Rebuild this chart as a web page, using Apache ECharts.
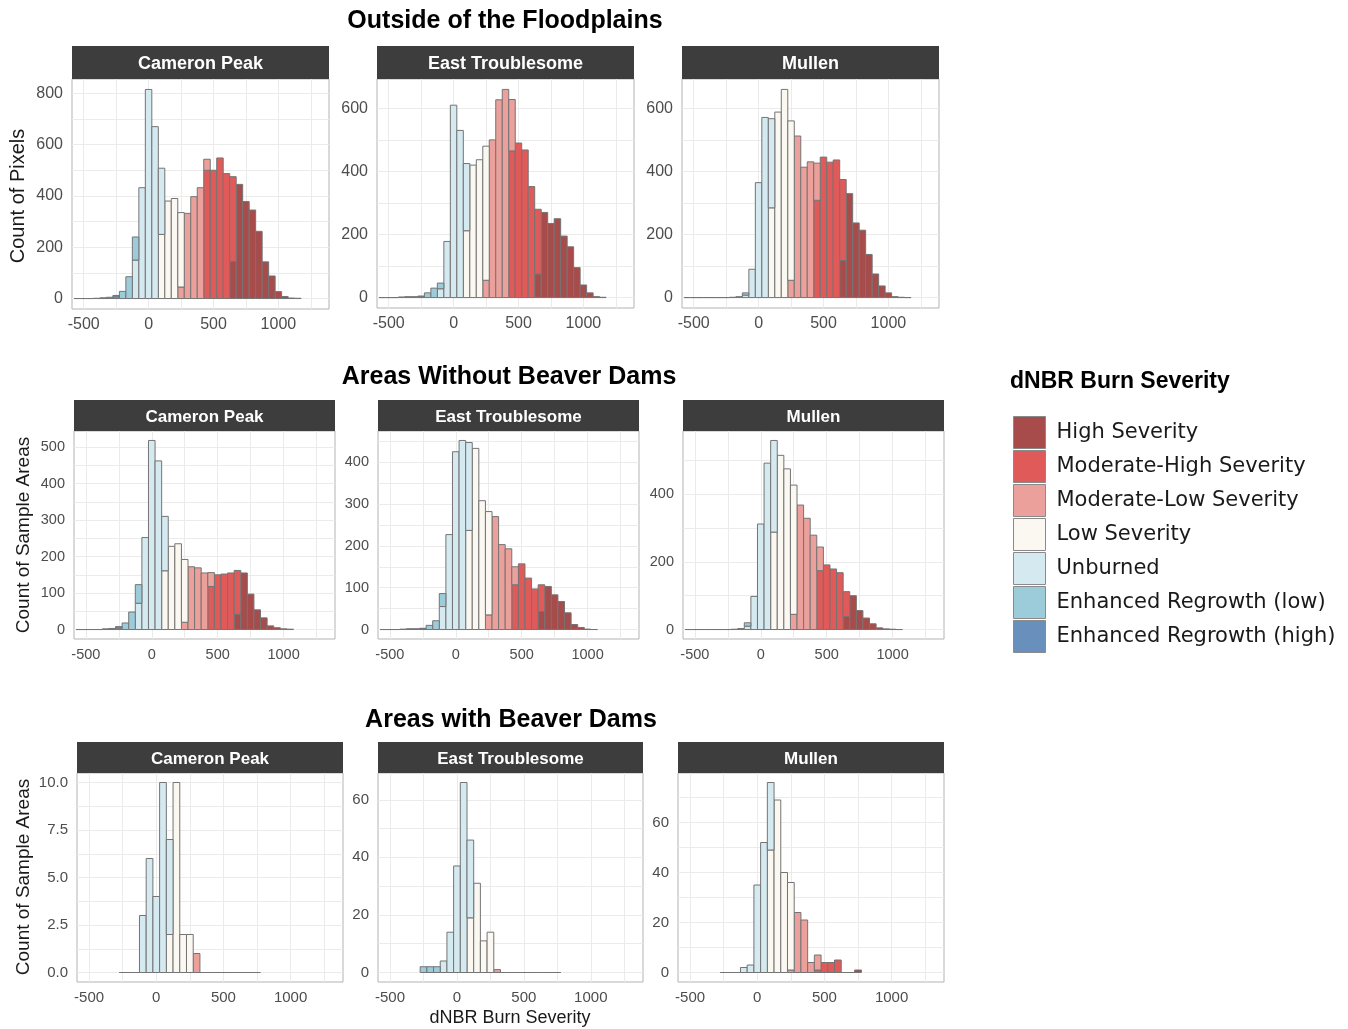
<!DOCTYPE html>
<html>
<head>
<meta charset="utf-8">
<title>dNBR Burn Severity</title>
<script src="https://cdn.jsdelivr.net/npm/echarts@6/dist/echarts.min.js"></script>
<style>
  html, body { margin: 0; padding: 0; background: #fff; }
  #chart { width: 1348px; height: 1029px; }
</style>
</head>
<body>
<div id="chart"></div>
<script>
// severity classes, stacked bottom -> top in this order
const classNames = [
  'High Severity',
  'Moderate-High Severity',
  'Moderate-Low Severity',
  'Low Severity',
  'Unburned',
  'Enhanced Regrowth (low)',
  'Enhanced Regrowth (high)'
];
const classColors = ['#a84b4b', '#e05a5a', '#eca09b', '#fbf8f2', '#d4e9f0', '#9ccbd9', '#6990bd'];
const classLowerBounds = [660, 440, 270, 100, -100, -250, -Infinity];

const binWidth = 50;
const rowTitles = ['Outside of the Floodplains', 'Areas Without Beaver Dams', 'Areas with Beaver Dams'];
const fireNames = ['Cameron Peak', 'East Troublesome', 'Mullen'];
const rowFirstBin = [-550, -550, -250];
const yTitles = ['Count of Pixels', 'Count of Sample Areas', 'Count of Sample Areas'];
const xTitle = 'dNBR Burn Severity';
const xTickLabels = [-500, 0, 500, 1000];
const xGridValues = [-500, -250, 0, 250, 500, 750, 1000, 1250];
const xRange = [-590, 1390];

// bin counts (bins centred on multiples of 50), split = count of the more severe class in bins crossing a class break
const outsideCameron = [0, 0, 0, 1, 3, 5, 12, 28, 85, 240, 432, 815, 670, 508, 380, 390, 335, 332, 397, 432,
  543, 500, 548, 487, 475, 445, 378, 345, 262, 143, 88, 27, 8, 2, 1];
const outsideCameronSplit = { '-250': 6, '-100': 150, 100: 250, 250: 45, 450: 500, 650: 145 };
const outsideTroublesome = [0, 0, 0, 2, 3, 3, 5, 15, 30, 46, 178, 610, 530, 425, 420, 437, 480, 500, 627, 660,
  628, 490, 468, 352, 280, 270, 235, 250, 195, 161, 95, 40, 15, 3, 1];
const outsideTroublesomeSplit = { '-250': 3, '-100': 28, 100: 212, 250: 55, 450: 465, 650: 75 };
const outsideMullen = [0, 0, 0, 0, 0, 0, 0, 1, 3, 15, 90, 365, 572, 568, 589, 661, 561, 513, 414, 431,
  427, 446, 430, 437, 375, 330, 237, 214, 137, 75, 37, 15, 3, 1, 0];
const outsideMullenSplit = { '-100': 8, 100: 285, 250: 55, 450: 309, 650: 118 };

const noDamsCameron = [0, 0, 0, 0, 2, 3, 8, 18, 48, 123, 252, 518, 462, 310, 228, 235, 192, 172, 169, 155,
  156, 150, 152, 155, 162, 155, 97, 54, 32, 10, 5, 2, 1];
const noDamsCameronSplit = { '-250': 4, '-100': 72, 100: 161, 250: 20, 450: 118, 650: 42 };
const noDamsTroublesome = [0, 0, 0, 1, 2, 2, 3, 10, 21, 86, 227, 425, 452, 447, 433, 308, 282, 270, 203, 193,
  150, 157, 123, 97, 107, 103, 83, 67, 40, 12, 5, 1, 0];
const noDamsTroublesomeSplit = { '-250': 2, '-100': 55, 100: 237, 250: 35, 450: 107, 650: 43 };
const noDamsMullen = [0, 0, 0, 0, 0, 0, 0, 1, 3, 20, 98, 312, 492, 559, 515, 475, 427, 368, 329, 279,
  244, 191, 179, 168, 112, 100, 56, 34, 17, 5, 2, 1, 0];
const noDamsMullenSplit = { '-100': 10, 100: 288, 250: 45, 450: 174, 650: 39 };

const damsCameron = [0, 0, 0, 3, 6, 4, 10, 7, 10, 2, 2, 1, 0, 0, 0, 0, 0, 0, 0, 0, 0];
const damsCameronSplit = { '-100': 3, 100: 2, 250: 0 };
const damsTroublesome = [2, 2, 2, 4, 14, 37, 66, 46, 31, 11, 14, 1, 0, 0, 0, 0, 0, 0, 0, 0, 0];
const damsTroublesomeSplit = { '-250': 2, '-100': 4, 100: 19, 250: 0 };
const damsMullen = [0, 0, 0, 2, 3, 35, 52, 76, 69, 40, 36, 24, 21, 4, 7, 4, 4, 5, 0, 0, 1];
const damsMullenSplit = { '-100': 2, 100: 49, 250: 1, 450: 1, 650: 0 };

const yTickValues = [
  [0, 200, 400, 600, 800], [0, 200, 400, 600], [0, 200, 400, 600],
  [0, 100, 200, 300, 400, 500], [0, 100, 200, 300, 400], [0, 200, 400],
  [0, 2.5, 5, 7.5, 10], [0, 20, 40, 60], [0, 20, 40, 60]
];

const panelCounts = [
  outsideCameron, outsideTroublesome, outsideMullen,
  noDamsCameron, noDamsTroublesome, noDamsMullen,
  damsCameron, damsTroublesome, damsMullen
];
const panelSplits = [
  outsideCameronSplit, outsideTroublesomeSplit, outsideMullenSplit,
  noDamsCameronSplit, noDamsTroublesomeSplit, noDamsMullenSplit,
  damsCameronSplit, damsTroublesomeSplit, damsMullenSplit
];

// panel boxes [left, top, width, height] and strip heights
const panelBoxes = [
  [72, 79, 257, 230], [377, 79, 257, 229], [682, 79, 257, 229],
  [74, 431, 261, 208], [378, 431, 261, 208], [683, 431, 261, 208],
  [77, 773, 266, 209], [378, 773, 265, 209], [678, 773, 266, 209]
];
const stripHeights = [33, 31, 31];
const labelSizes = [16, 14.5, 15];

const font = 'Liberation Sans, Arial, sans-serif';

function classOf(v) {
  for (let k = 0; k < classLowerBounds.length; k++) {
    if (v >= classLowerBounds[k]) return k;
  }
  return classLowerBounds.length - 1;
}

function renderBin(params, api) {
  const a = api.coord([api.value(0), api.value(2)]);
  const b = api.coord([api.value(1), api.value(3)]);
  return {
    type: 'rect',
    shape: { x: a[0], y: b[1], width: b[0] - a[0], height: a[1] - b[1] },
    style: { fill: api.visual('color'), stroke: '#747474', lineWidth: 1 }
  };
}

const grids = [], xAxes = [], yAxes = [], series = [], graphics = [];

panelCounts.forEach((counts, i) => {
  const row = Math.floor(i / 3);
  const box = panelBoxes[i];
  const split = panelSplits[i];
  const first = rowFirstBin[row];
  const yMax = Math.max(...counts);

  grids.push({
    left: box[0], top: box[1], width: box[2], height: box[3],
    show: true, borderColor: '#b3b3b3', borderWidth: 1, backgroundColor: '#fff'
  });

  xAxes.push({
    type: 'value', gridIndex: i, min: xRange[0], max: xRange[1],
    axisLine: { show: false },
    axisTick: { show: false, customValues: xGridValues },
    axisLabel: {
      customValues: xTickLabels, fontSize: labelSizes[row], color: '#4d4d4d', fontFamily: font, margin: 8,
      formatter: (v) => String(v)
    },
    splitLine: { show: true, lineStyle: { color: '#ebebeb', width: 1 } }
  });

  const ticks = yTickValues[i];
  const step = ticks[1] - ticks[0];
  const gridVals = ticks.slice();
  for (let v = step / 2; v < yMax * 1.05; v += step) gridVals.push(v);

  yAxes.push({
    type: 'value', gridIndex: i, min: -0.05 * yMax, max: 1.05 * yMax,
    axisLine: { show: false },
    axisTick: { show: false, customValues: gridVals },
    axisLabel: {
      customValues: ticks, fontSize: labelSizes[row], color: '#4d4d4d', fontFamily: font, margin: 9,
      formatter: i === 6 ? (v) => v.toFixed(1) : (v) => String(v)
    },
    splitLine: { show: true, lineStyle: { color: '#ebebeb', width: 1 } }
  });

  const perClass = classNames.map(() => []);
  counts.forEach((total, j) => {
    const c = first + j * binWidth;
    const x0 = c - binWidth / 2, x1 = c + binWidth / 2;
    const lo = classOf(x0), hi = classOf(x1 - 0.001);
    if (total === 0) { perClass[classOf(c)].push([x0, x1, 0, 0]); return; }
    if (lo === hi) { perClass[lo].push([x0, x1, 0, total]); return; }
    const bottom = split[c] || 0;
    if (bottom > 0) perClass[hi].push([x0, x1, 0, bottom]);
    if (total > bottom) perClass[lo].push([x0, x1, bottom, total]);
  });

  classNames.forEach((name, k) => {
    series.push({
      type: 'custom', name: name, xAxisIndex: i, yAxisIndex: i,
      itemStyle: { color: classColors[k] },
      encode: { x: [0, 1], y: [2, 3] },
      renderItem: renderBin, data: perClass[k], silent: true
    });
  });

  // facet strip
  const sh = stripHeights[row];
  graphics.push({
    type: 'rect', shape: { x: box[0], y: box[1] - sh, width: box[2], height: sh },
    style: { fill: '#3d3d3d' }
  });
  graphics.push({
    type: 'text', x: box[0] + box[2] / 2, y: box[1] - sh / 2 + 1.5,
    style: { text: fireNames[i % 3], fill: '#fff', font: 'bold ' + (row === 0 ? 18 : 17) + 'px ' + font,
      textAlign: 'center', textVerticalAlign: 'middle' }
  });
});

// row titles and axis titles
const titleY = [21, 377, 720];
const titleX = [505, 509, 511];
const yTitleX = [18, 24, 24];
const yTitleY = [196, 535, 877];
rowTitles.forEach((t, r) => {
  graphics.push({
    type: 'text', x: titleX[r], y: titleY[r],
    style: { text: t, fill: '#000', font: 'bold 25px ' + font, textAlign: 'center', textVerticalAlign: 'middle' }
  });
  graphics.push({
    type: 'text', x: yTitleX[r], y: yTitleY[r], rotation: Math.PI / 2,
    style: { text: yTitles[r], fill: '#1a1a1a', font: (r === 0 ? 20 : 19) + 'px ' + font,
      textAlign: 'center', textVerticalAlign: 'middle' }
  });
});
graphics.push({
  type: 'text', x: 510, y: 1018,
  style: { text: xTitle, fill: '#1a1a1a', font: '18px ' + font, textAlign: 'center', textVerticalAlign: 'middle' }
});
graphics.push({
  type: 'text', x: 1010, y: 382,
  style: { text: 'dNBR Burn Severity', fill: '#000', font: 'bold 23px ' + font, textAlign: 'left', textVerticalAlign: 'middle' }
});

const chart = echarts.init(document.getElementById('chart'), null, { renderer: 'canvas' });
chart.setOption({
  backgroundColor: '#fff',
  animation: false,
  grid: grids,
  xAxis: xAxes,
  yAxis: yAxes,
  series: series,
  graphic: graphics,
  legend: {
    orient: 'vertical', left: 1013, top: 416, padding: 0,
    itemWidth: 32, itemHeight: 32, itemGap: 1,
    selectedMode: false,
    data: classNames.map((n) => ({ name: n, icon: 'rect' })),
    itemStyle: { borderColor: '#8a8a8a', borderWidth: 1 },
    textStyle: { fontSize: 21, fontFamily: 'DejaVu Sans', color: '#1a1a1a', padding: [0, 0, 0, 6] }
  }
});
</script>
</body>
</html>
